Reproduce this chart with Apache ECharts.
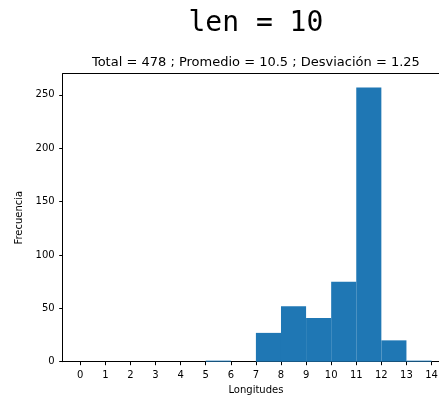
<!DOCTYPE html>
<html>
<head>
<meta charset="utf-8">
<script src="https://cdn.jsdelivr.net/npm/echarts@6/dist/echarts.min.js"></script>
<style>html,body{margin:0;padding:0;background:#fff;overflow:hidden;}#c{width:439px;height:398px;}</style>
</head>
<body>
<div id="c"></div>
<script>
var binStarts = [5, 7, 8, 9, 10, 11, 12, 13];
var counts    = [1, 27, 52, 41, 75, 257, 20, 1];
var xTicks = [0,1,2,3,4,5,6,7,8,9,10,11,12,13,14];
var yTicks = [0,50,100,150,200,250];
var mainTitle = 'len = 10';
var subTitle = 'Total = 478 ; Promedio = 10.5 ; Desviación = 1.25';
var xName = 'Longitudes';
var yName = 'Frecuencia';

var data = binStarts.map(function(s, i){ return [s, s + 1, counts[i]]; });

var chart = echarts.init(document.getElementById('c'), null, {renderer:'canvas'});
var gridLeft = 62.7, gridTop = 73.7, gridW = 386.4, gridH = 288;
chart.setOption({
  animation: false,
  backgroundColor: '#ffffff',
  grid: {left: gridLeft, top: gridTop, width: gridW, height: gridH, outerBoundsMode: 'none', containLabel: false, show: false},
  xAxis: [{
    type: 'value', min: -0.7, max: 14.7,
    name: xName, nameLocation: 'middle', nameGap: 24,
    nameTextStyle: {fontFamily: 'DejaVu Sans', fontSize: 10, color: '#000'},
    axisLine: {show: true, onZero: false, lineStyle: {color: '#000', width: 1}},
    axisTick: {show: true, length: 3.5, lineStyle: {color: '#000'}, customValues: xTicks},
    axisLabel: {fontFamily: 'DejaVu Sans', fontSize: 10, color: '#000', margin: 8.5, customValues: xTicks},
    splitLine: {show: false}
  }, {
    type: 'value', min: -0.7, max: 14.7, position: 'top',
    axisLine: {show: true, onZero: false, lineStyle: {color: '#000', width: 1}},
    axisTick: {show: false}, axisLabel: {show: false}, splitLine: {show: false}
  }],
  yAxis: {
    type: 'value', min: 0, max: 269.85,
    name: yName, nameLocation: 'middle', nameGap: 28, nameRotate: 90,
    nameTextStyle: {fontFamily: 'DejaVu Sans', fontSize: 10, color: '#000'},
    axisLine: {show: true, onZero: false, lineStyle: {color: '#000', width: 1}},
    axisTick: {show: true, length: 3.5, lineStyle: {color: '#000'}, customValues: yTicks},
    axisLabel: {fontFamily: 'DejaVu Sans', fontSize: 10, color: '#000', margin: 8, customValues: yTicks},
    splitLine: {show: false}
  },
  graphic: [
    {type: 'text', x: gridLeft + gridW / 2, y: 23.5, style: {text: mainTitle, font: '28px "DejaVu Sans Mono"', fill: '#000', align: 'center', verticalAlign: 'middle'}},
    {type: 'text', x: gridLeft + gridW / 2, y: 62.5, style: {text: subTitle, font: '13px "DejaVu Sans"', fill: '#000', align: 'center', verticalAlign: 'middle'}}
  ],
  series: [{
    type: 'custom',
    xAxisIndex: 0,
    data: data,
    encode: {x: [0, 1], y: 2},
    renderItem: function(params, api){
      var p0 = api.coord([api.value(0), 0]);
      var p1 = api.coord([api.value(1), api.value(2)]);
      return {type: 'rect', shape: {x: p0[0], y: p1[1], width: p1[0] - p0[0], height: p0[1] - p1[1]}, style: {fill: '#1f77b4'}};
    }
  }]
});
</script>
</body>
</html>
